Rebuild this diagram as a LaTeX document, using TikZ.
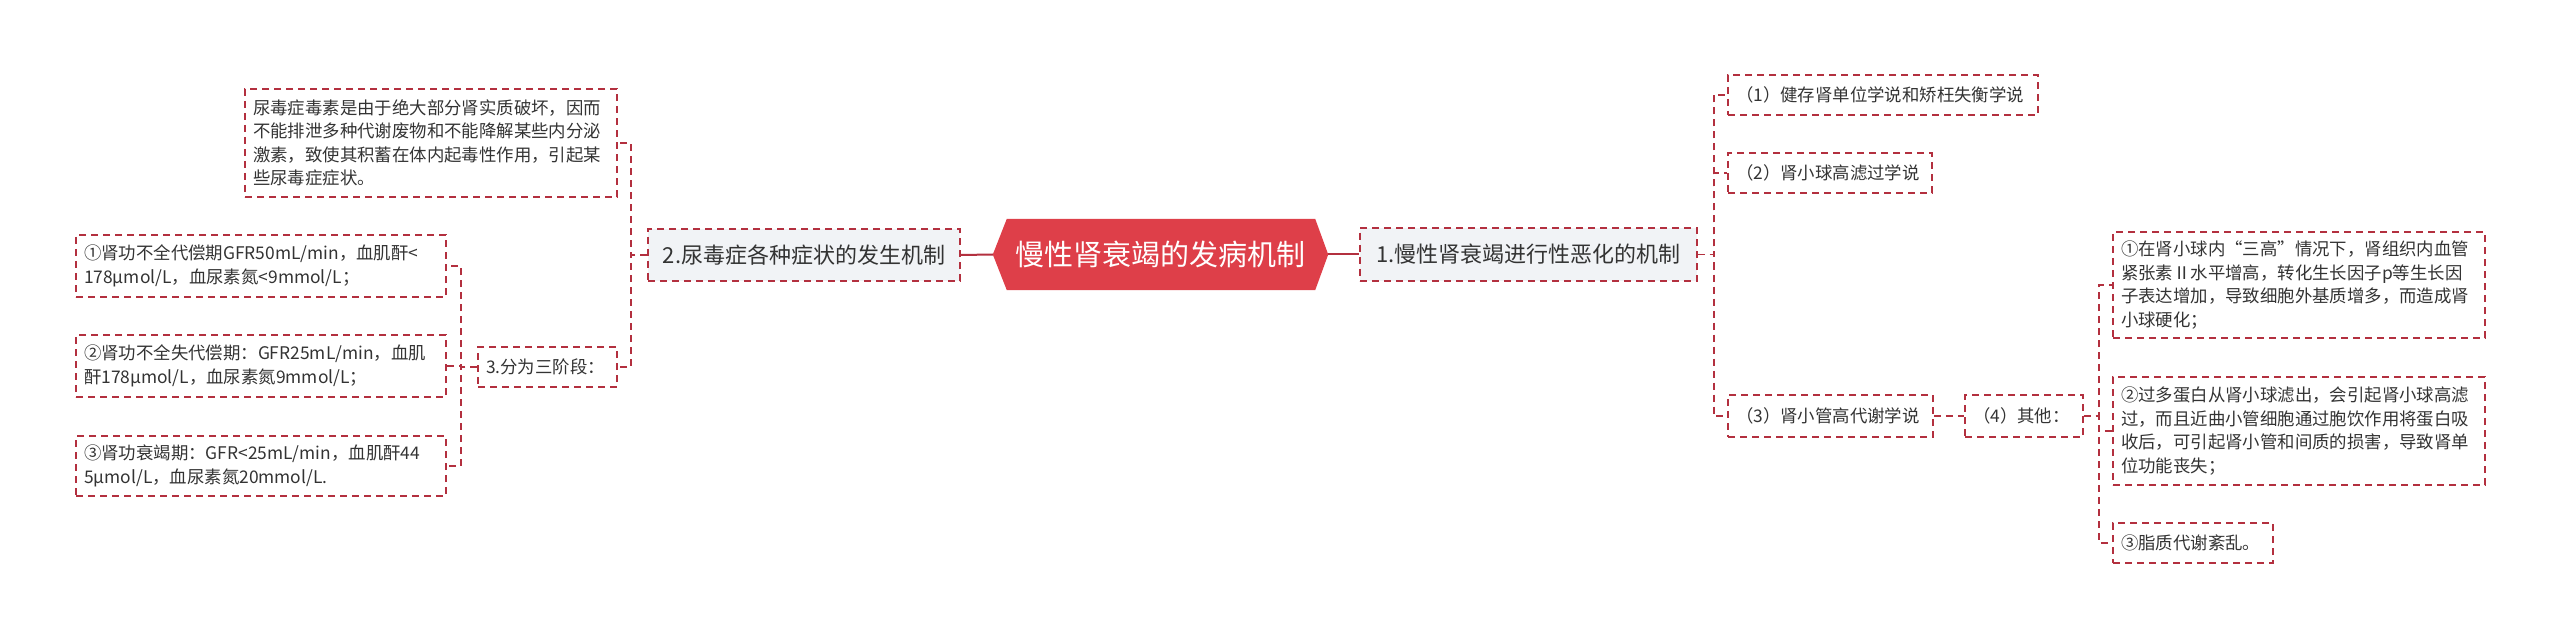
\documentclass[tikz,border=0pt]{standalone}
\usepackage{fontspec}
\setmainfont{Noto Sans CJK SC}
\usetikzlibrary{backgrounds}

\definecolor{linkred}{HTML}{B3303F}
\definecolor{rootred}{HTML}{DE3F49}
\definecolor{boxgray}{HTML}{F1F3F6}
\definecolor{txtgray}{HTML}{333333}

\begin{document}
\begin{tikzpicture}[x=1pt,y=-1pt,
  leaf/.style={draw=linkred,line width=1.6pt,dash pattern=on 7pt off 5pt,text=txtgray,
    font=\fontsize{17.4}{23.5}\selectfont,align=left,inner xsep=8pt,inner ysep=0pt},
  branch/.style={leaf,fill=boxgray,align=center,font=\fontsize{22}{26}\selectfont},
  link/.style={linkred,line width=1.6pt,dash pattern=on 7pt off 5pt},
  trunk/.style={linkred,line width=2pt}]

\useasboundingbox (0,0) rectangle (2560,639);

% centre
\node[text=white,font=\fontsize{29}{32}\selectfont,minimum width=335pt,minimum height=71pt,inner sep=0pt] (root) at (1160.5,254.5) {慢性肾衰竭的发病机制};
\begin{scope}[on background layer]
\fill[rootred] (root.west) -- ([xshift=14pt]root.north west) -- ([xshift=-13pt]root.north east)
  -- (root.east) -- ([xshift=-13pt]root.south east) -- ([xshift=14pt]root.south west) -- cycle;
\end{scope}

% right side
\node[branch,minimum width=337pt,minimum height=53pt] (c1) at (1528.5,254.5) {1.慢性肾衰竭进行性恶化的机制};
\node[leaf,text width=294pt,minimum height=40pt] (m1) at (1883,95) {（1）健存肾单位学说和矫枉失衡学说};
\node[leaf,text width=188pt,minimum height=40pt] (m2) at (1830,173) {（2）肾小球高滤过学说};
\node[leaf,text width=189pt,minimum height=42pt] (m3) at (1830.5,416) {（3）肾小管高代谢学说};
\node[leaf,text width=102pt,minimum height=42pt] (m4) at (2024,416) {（4）其他：};
\node[leaf,text width=356pt,minimum height=106pt] (r1) at (2299,285) {①在肾小球内“三高”情况下，肾组织内血管\\紧张素Ⅱ水平增高，转化生长因子p等生长因\\子表达增加，导致细胞外基质增多，而造成肾\\小球硬化；};
\node[leaf,text width=356pt,minimum height=108pt] (r2) at (2299,431) {②过多蛋白从肾小球滤出，会引起肾小球高滤\\过，而且近曲小管细胞通过胞饮作用将蛋白吸\\收后，可引起肾小管和间质的损害，导致肾单\\位功能丧失；};
\node[leaf,text width=144pt,minimum height=40pt] (r3) at (2193,543) {③脂质代谢紊乱。};

% left side
\node[branch,minimum width=312pt,minimum height=52pt] (c2) at (804,255) {2.尿毒症各种症状的发生机制};
\node[leaf,text width=356pt,minimum height=108pt] (uremia) at (431,143) {尿毒症毒素是由于绝大部分肾实质破坏，因而\\不能排泄多种代谢废物和不能降解某些内分泌\\激素，致使其积蓄在体内起毒性作用，引起某\\些尿毒症症状。};
\node[leaf,text width=123pt,minimum height=40pt] (stages) at (547.5,367) {3.分为三阶段：};
\node[leaf,text width=354pt,minimum height=62pt] (s1) at (261,266) {①肾功不全代偿期GFR50mL/min，血肌酐<\\178μmol/L，血尿素氮<9mmol/L；};
\node[leaf,text width=354pt,minimum height=62pt] (s2) at (261,366) {②肾功不全失代偿期：GFR25mL/min，血肌\\酐178μmol/L，血尿素氮9mmol/L；};
\node[leaf,text width=354pt,minimum height=60pt] (s3) at (261,466) {③肾功衰竭期：GFR<25mL/min，血肌酐44\\5μmol/L，血尿素氮20mmol/L.};

% connectors
\draw[trunk] (c2.east) -- (root.west);
\draw[trunk] (root.east) -- (c1.west);
\foreach \n in {m1,m2,m3} \draw[link] (c1.east) -- ++(16,0) |- (\n.west);
\draw[link] (m3.east) -- (m4.west);
\foreach \n in {r1,r2,r3} \draw[link] (m4.east) -- ++(15,0) |- (\n.west);
\foreach \n in {uremia,stages} \draw[link] (c2.west) -- ++(-16,0) |- (\n.east);
\foreach \n in {s1,s2,s3} \draw[link] (stages.west) -- ++(-16,0) |- (\n.east);

\end{tikzpicture}
\end{document}
